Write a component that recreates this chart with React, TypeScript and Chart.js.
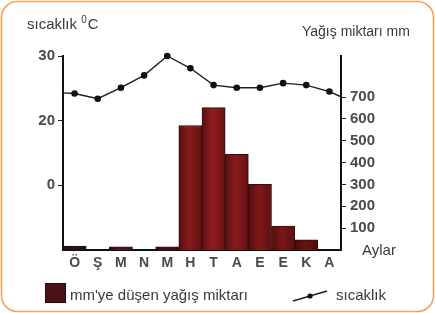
import { useEffect, useRef } from "react";
import { Chart, registerables } from "chart.js";

Chart.register(...registerables);

const months = ["Ö", "Ş", "M", "N", "M", "H", "T", "A", "E", "E", "K", "A"];
const rainfall = [18, 0, 15, 0, 15, 570, 652, 438, 301, 110, 46, 0];
const rainColors = ["#2a1616", "#ffffff", "#4a1a24", "#ffffff", "#4a1418", "#8a1a1c", "#901c1e", "#8a1a1c", "#82181a", "#7a1718", "#6a1414", "#ffffff"];
const temperature = [24.2, 23.4, 25.1, 27.0, 30.0, 28.1, 25.5, 25.1, 25.1, 25.8, 25.5, 24.5];
const tempEdgeStart = 24.3;
const tempEdgeEnd = 23.7;
const tempTicks = [10, 20, 30];
const tempTickLabels = ["0", "20", "30"];
const rainTicks = [100, 200, 300, 400, 500, 600, 700];

const leftTitle = "sıcaklık ";
const leftTitleSup = "0";
const leftTitleUnit = "C";
const rightTitle = "Yağış miktarı mm";
const xTitle = "Aylar";
const legendBars = "mm'ye düşen yağış miktarı";
const legendLine = "sıcaklık";

const FONT = "'Liberation Sans', Arial, sans-serif";

function shade(hex: string, f: number) {
  const n = parseInt(hex.slice(1), 16);
  const r = Math.round(((n >> 16) & 255) * f);
  const g = Math.round(((n >> 8) & 255) * f);
  const b = Math.round((n & 255) * f);
  return `rgb(${r},${g},${b})`;
}

const decor = {
  id: "decor",
  beforeDraw(chart: any) {
    const ctx = chart.ctx;
    ctx.save();
    ctx.fillStyle = "#ffffff";
    ctx.fillRect(0, 0, chart.width, chart.height);
    ctx.strokeStyle = "#f6a15c";
    ctx.lineWidth = 1.6;
    ctx.beginPath();
    ctx.roundRect(1.5, 1.5, chart.width - 3, chart.height - 3, 16);
    ctx.stroke();
    ctx.restore();
  },
  afterDraw(chart: any) {
    const ctx = chart.ctx;
    ctx.save();
    ctx.fillStyle = "#3a3a3a";
    ctx.textBaseline = "alphabetic";
    ctx.textAlign = "left";
    ctx.font = `15px ${FONT}`;
    ctx.fillText(leftTitle, 27, 29);
    const w = ctx.measureText(leftTitle).width;
    ctx.font = `10px ${FONT}`;
    ctx.fillText(leftTitleSup, 27 + w, 23);
    const w2 = ctx.measureText(leftTitleSup).width;
    ctx.font = `15px ${FONT}`;
    ctx.fillText(leftTitleUnit, 27 + w + w2 + 1, 29);

    ctx.font = `14px ${FONT}`;
    ctx.fillText(rightTitle, 302, 36);

    ctx.font = `15px ${FONT}`;
    ctx.fillText(xTitle, 362, 255);

    // legend
    ctx.fillStyle = "#4a1216";
    ctx.fillRect(45, 283, 21, 20);
    ctx.strokeStyle = "#2a0808";
    ctx.lineWidth = 1;
    ctx.strokeRect(45.5, 283.5, 20, 19);
    ctx.fillStyle = "#3a3a3a";
    ctx.font = `15px ${FONT}`;
    ctx.fillText(legendBars, 70, 300);

    ctx.strokeStyle = "#222";
    ctx.lineWidth = 1.5;
    ctx.beginPath();
    ctx.moveTo(293, 301);
    ctx.lineTo(327, 291);
    ctx.stroke();
    ctx.fillStyle = "#111";
    ctx.beginPath();
    ctx.arc(310, 296, 2.6, 0, Math.PI * 2);
    ctx.fill();
    ctx.fillStyle = "#3a3a3a";
    ctx.fillText(legendLine, 336, 300);
    ctx.restore();
  },
};

export default function App() {
  const ref = useRef<HTMLCanvasElement>(null);
  useEffect(() => {
    if (!ref.current) return;
    const lineData = [
      { x: 0, y: tempEdgeStart },
      ...temperature.map((v, i) => ({ x: i + 0.5, y: v })),
      { x: months.length, y: tempEdgeEnd },
    ];
    const barData = rainfall.map((v, i) => ({ x: i + 0.5, y: v }));
    const last = lineData.length - 1;
    const monthTicks = months.map((_, i) => i + 0.5);
    const barFill = (c: any) => {
      const base = rainColors[c.dataIndex] ?? "#8a1a1c";
      const sx = c.chart.scales?.x;
      if (!sx || sx.left === undefined) return base;
      const l = sx.getPixelForValue(c.dataIndex);
      const r = sx.getPixelForValue(c.dataIndex + 1);
      if (!isFinite(l) || !isFinite(r)) return base;
      const g = c.chart.ctx.createLinearGradient(l, 0, r, 0);
      g.addColorStop(0, shade(base, 0.62));
      g.addColorStop(0.45, base);
      g.addColorStop(1, shade(base, 0.72));
      return g;
    };
    const chart = new Chart(ref.current, {
      type: "bar",
      data: {
        datasets: [
          {
            type: "line",
            data: lineData as any,
            xAxisID: "x",
            yAxisID: "y",
            borderColor: "#1e1e1e",
            borderWidth: 1.4,
            pointBackgroundColor: "#111",
            pointBorderColor: "#111",
            pointRadius: (c: any) => (c.dataIndex === 0 || c.dataIndex === last ? 0 : 2.6),
            tension: 0,
            clip: false,
            order: 0,
          } as any,
          {
            type: "bar",
            data: barData as any,
            xAxisID: "x",
            yAxisID: "y1",
            backgroundColor: barFill,
            borderColor: "#3a0a0c",
            borderWidth: 1,
            barPercentage: 1,
            categoryPercentage: 1,
            grouped: false,
            order: 1,
          } as any,
        ],
      },
      options: {
        animation: false,
        responsive: false,
        devicePixelRatio: 1,
        layout: { padding: { top: 56, left: 0, right: 0, bottom: 0 } },
        plugins: { legend: { display: false }, tooltip: { enabled: false } },
        scales: {
          x: {
            type: "linear",
            offset: false,
            min: 0,
            max: months.length,
            grid: { display: false, drawTicks: false, offset: false },
            border: { display: true, color: "#111", width: 2 },
            afterBuildTicks: (s: any) => { s.ticks = monthTicks.map((v) => ({ value: v })); },
            ticks: {
              color: "#4a4a4a",
              padding: 5,
              font: { family: FONT, size: 14, weight: "bold" },
              maxRotation: 0,
              autoSkip: false,
              callback: (v: any) => months[monthTicks.indexOf(Number(v))] ?? "",
            },
            afterFit: (s: any) => { s.height = 63; },
          },
          y: {
            position: "left",
            min: 0,
            max: 30,
            afterBuildTicks: (s: any) => { s.ticks = tempTicks.map((v) => ({ value: v })); },
            ticks: {
              color: "#4a4a4a",
              padding: 3,
              font: { family: FONT, size: 15, weight: "bold" },
              callback: (v: any) => tempTickLabels[tempTicks.indexOf(Number(v))] ?? "",
            },
            grid: { drawOnChartArea: false, tickLength: 5, color: "#222" },
            border: { display: true, color: "#111", width: 2 },
            afterFit: (s: any) => { s.width = 63; },
          },
          y1: {
            position: "right",
            min: 0,
            max: 888,
            afterBuildTicks: (s: any) => { s.ticks = rainTicks.map((v) => ({ value: v })); },
            ticks: { color: "#4a4a4a", padding: 4, font: { family: FONT, size: 15, weight: "bold" } },
            grid: { drawOnChartArea: false, tickLength: 5, color: "#222" },
            border: { display: true, color: "#111", width: 2 },
            afterFit: (s: any) => { s.width = 94; },
          },
        },
      },
      plugins: [decor],
    });
    return () => chart.destroy();
  }, []);
  return (
    <div style={{ position: "fixed", left: 0, top: 0, width: 435, height: 313 }}>
      <canvas ref={ref} width={435} height={313} />
    </div>
  );
}
